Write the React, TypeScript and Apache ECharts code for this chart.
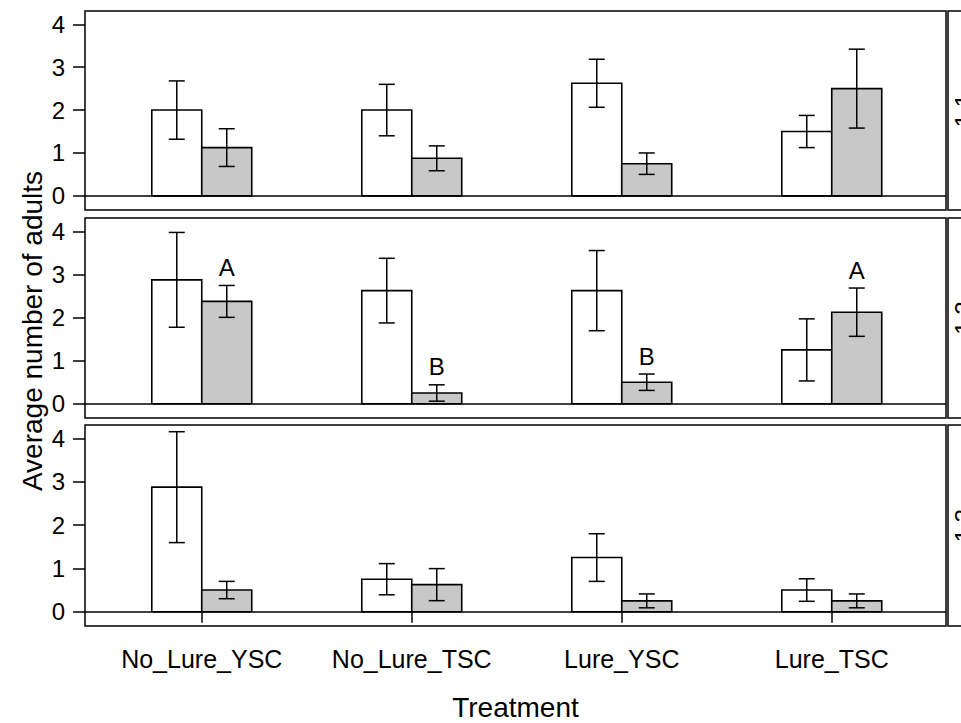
import React, { useEffect, useRef } from "react";
import * as echarts from "echarts";

// Treatments on the x axis, one panel per trap set
const treatments = ["No_Lure_YSC", "No_Lure_TSC", "Lure_YSC", "Lure_TSC"];
const panelNames = ["1.1", "1.2", "1.3"];
const yTicks = [0, 1, 2, 3, 4];

// Mean and standard error of adults per trap, white (first) bars
const whiteMean = [
  [2.0, 2.0, 2.625, 1.5],
  [2.875, 2.625, 2.625, 1.25],
  [2.875, 0.75, 1.25, 0.5],
];
const whiteSe = [
  [0.68, 0.6, 0.56, 0.375],
  [1.1, 0.75, 0.93, 0.72],
  [1.28, 0.36, 0.55, 0.26],
];

// Mean and standard error, grey (second) bars
const greyMean = [
  [1.125, 0.875, 0.75, 2.5],
  [2.375, 0.25, 0.5, 2.125],
  [0.5, 0.625, 0.25, 0.25],
];
const greySe = [
  [0.44, 0.29, 0.25, 0.92],
  [0.37, 0.19, 0.19, 0.56],
  [0.2, 0.37, 0.16, 0.16],
];

// Significance letters above the grey bars
const greyLetters = [
  ["", "", "", ""],
  ["A", "B", "B", "A"],
  ["", "", "", ""],
];

const FONT = "'Liberation Sans', Arial, Helvetica, sans-serif";
const PANEL_LEFT = 85;
const PANEL_WIDTH = 861;
const PANEL_TOPS = [11, 218, 425];
const PANEL_HEIGHTS = [199, 200, 201];
const X_MIN = 0.444;
const X_MAX = 4.544;
const Y_MIN = -0.33;
const Y_MAX = 4.31;
const BAR_W = 0.238;

function buildOption() {
  const grids: any[] = [];
  const xAxes: any[] = [];
  const yAxes: any[] = [];
  const series: any[] = [];
  const graphics: any[] = [];

  panelNames.forEach((name, p) => {
    const last = p === panelNames.length - 1;
    grids.push({
      left: PANEL_LEFT,
      top: PANEL_TOPS[p],
      width: PANEL_WIDTH,
      height: PANEL_HEIGHTS[p],
      show: true,
      borderColor: "#000",
      borderWidth: 1.5,
      backgroundColor: "transparent",
    });
    xAxes.push({
      gridIndex: p,
      type: "value",
      min: X_MIN,
      max: X_MAX,
      axisLine: { show: false },
      splitLine: { show: false },
      axisTick: {
        show: last,
        customValues: [1, 2, 3, 4],
        length: 11,
        lineStyle: { color: "#000", width: 1.5 },
      },
      axisLabel: {
        show: last,
        customValues: [1, 2, 3, 4],
        formatter: (v: number) => treatments[Math.round(v) - 1] ?? "",
        margin: 20,
        fontSize: 25,
        color: "#000",
        fontFamily: FONT,
      },
    });
    yAxes.push({
      gridIndex: p,
      type: "value",
      min: Y_MIN,
      max: Y_MAX,
      axisLine: { show: false },
      splitLine: { show: false },
      axisTick: {
        show: true,
        customValues: yTicks,
        length: 12,
        lineStyle: { color: "#000", width: 1.5 },
      },
      axisLabel: {
        customValues: yTicks,
        margin: 20,
        fontSize: 24,
        color: "#000",
        fontFamily: FONT,
      },
    });

    const data: number[][] = [];
    treatments.forEach((_, i) => {
      data.push([i + 1, 0, whiteMean[p][i], whiteSe[p][i], i]);
    });
    treatments.forEach((_, i) => {
      data.push([i + 1, 1, greyMean[p][i], greySe[p][i], i]);
    });

    series.push({
      type: "custom",
      xAxisIndex: p,
      yAxisIndex: p,
      data,
      silent: true,
      renderItem: (params: any, api: any) => {
        const x = api.value(0);
        const g = api.value(1);
        const m = api.value(2);
        const se = api.value(3);
        const idx = api.value(4);
        const x0 = g === 0 ? x - BAR_W : x;
        const x1 = g === 0 ? x : x + BAR_W;
        const tl = api.coord([x0, m]);
        const br = api.coord([x1, 0]);
        const xc = (tl[0] + br[0]) / 2;
        const yHi = api.coord([x, m + se])[1];
        const yLo = api.coord([x, m - se])[1];
        const cap = 8;
        const children: any[] = [
          {
            type: "rect",
            shape: { x: tl[0], y: tl[1], width: br[0] - tl[0], height: br[1] - tl[1] },
            style: { fill: g === 0 ? "#ffffff" : "#c8c8c8", stroke: "#000", lineWidth: 1.6 },
          },
          {
            type: "line",
            shape: { x1: xc, y1: yHi, x2: xc, y2: yLo },
            style: { stroke: "#000", lineWidth: 1.5 },
          },
          {
            type: "line",
            shape: { x1: xc - cap, y1: yHi, x2: xc + cap, y2: yHi },
            style: { stroke: "#000", lineWidth: 1.5 },
          },
          {
            type: "line",
            shape: { x1: xc - cap, y1: yLo, x2: xc + cap, y2: yLo },
            style: { stroke: "#000", lineWidth: 1.5 },
          },
        ];
        const letter = g === 1 ? greyLetters[p][idx] : "";
        if (letter) {
          children.push({
            type: "text",
            style: {
              text: letter,
              x: xc,
              y: yHi - 6,
              textAlign: "center",
              textVerticalAlign: "bottom",
              fontSize: 24,
              fontFamily: FONT,
              fill: "#000",
            },
          });
        }
        return { type: "group", children };
      },
      markLine: {
        silent: true,
        symbol: "none",
        label: { show: false },
        lineStyle: { color: "#000", type: "solid", width: 1.5 },
        data: [{ yAxis: 0 }],
      },
    });

    // Strip on the right-hand side carrying the panel name
    graphics.push({
      type: "rect",
      shape: { x: PANEL_LEFT + PANEL_WIDTH + 2, y: PANEL_TOPS[p], width: 60, height: PANEL_HEIGHTS[p] },
      style: { fill: "#ffffff", stroke: "#000", lineWidth: 1.5 },
      z: 10,
    });
    graphics.push({
      type: "text",
      x: 963,
      y: PANEL_TOPS[p] + PANEL_HEIGHTS[p] / 2,
      rotation: Math.PI / 2,
      style: {
        text: name,
        textAlign: "center",
        textVerticalAlign: "middle",
        fontSize: 24,
        fontFamily: FONT,
        fill: "#000",
      },
      z: 11,
    });
  });

  graphics.push({
    type: "text",
    x: 32,
    y: 331,
    rotation: Math.PI / 2,
    style: {
      text: "Average number of adults",
      textAlign: "center",
      textVerticalAlign: "middle",
      fontSize: 28,
      fontFamily: FONT,
      fill: "#000",
    },
  });
  graphics.push({
    type: "text",
    x: PANEL_LEFT + PANEL_WIDTH / 2,
    y: 707,
    style: {
      text: "Treatment",
      textAlign: "center",
      textVerticalAlign: "middle",
      fontSize: 28,
      fontFamily: FONT,
      fill: "#000",
    },
  });

  return {
    animation: false,
    backgroundColor: "#ffffff",
    textStyle: { fontFamily: FONT },
    grid: grids,
    xAxis: xAxes,
    yAxis: yAxes,
    series,
    graphic: graphics,
  };
}

export default function App() {
  const ref = useRef<HTMLDivElement>(null);
  useEffect(() => {
    if (!ref.current) return;
    const chart = echarts.init(ref.current, null, { renderer: "svg" });
    chart.setOption(buildOption());
    return () => chart.dispose();
  }, []);
  return (
    <div
      ref={ref}
      style={{ position: "fixed", left: 0, top: 0, width: 961, height: 723, background: "#fff" }}
    />
  );
}
